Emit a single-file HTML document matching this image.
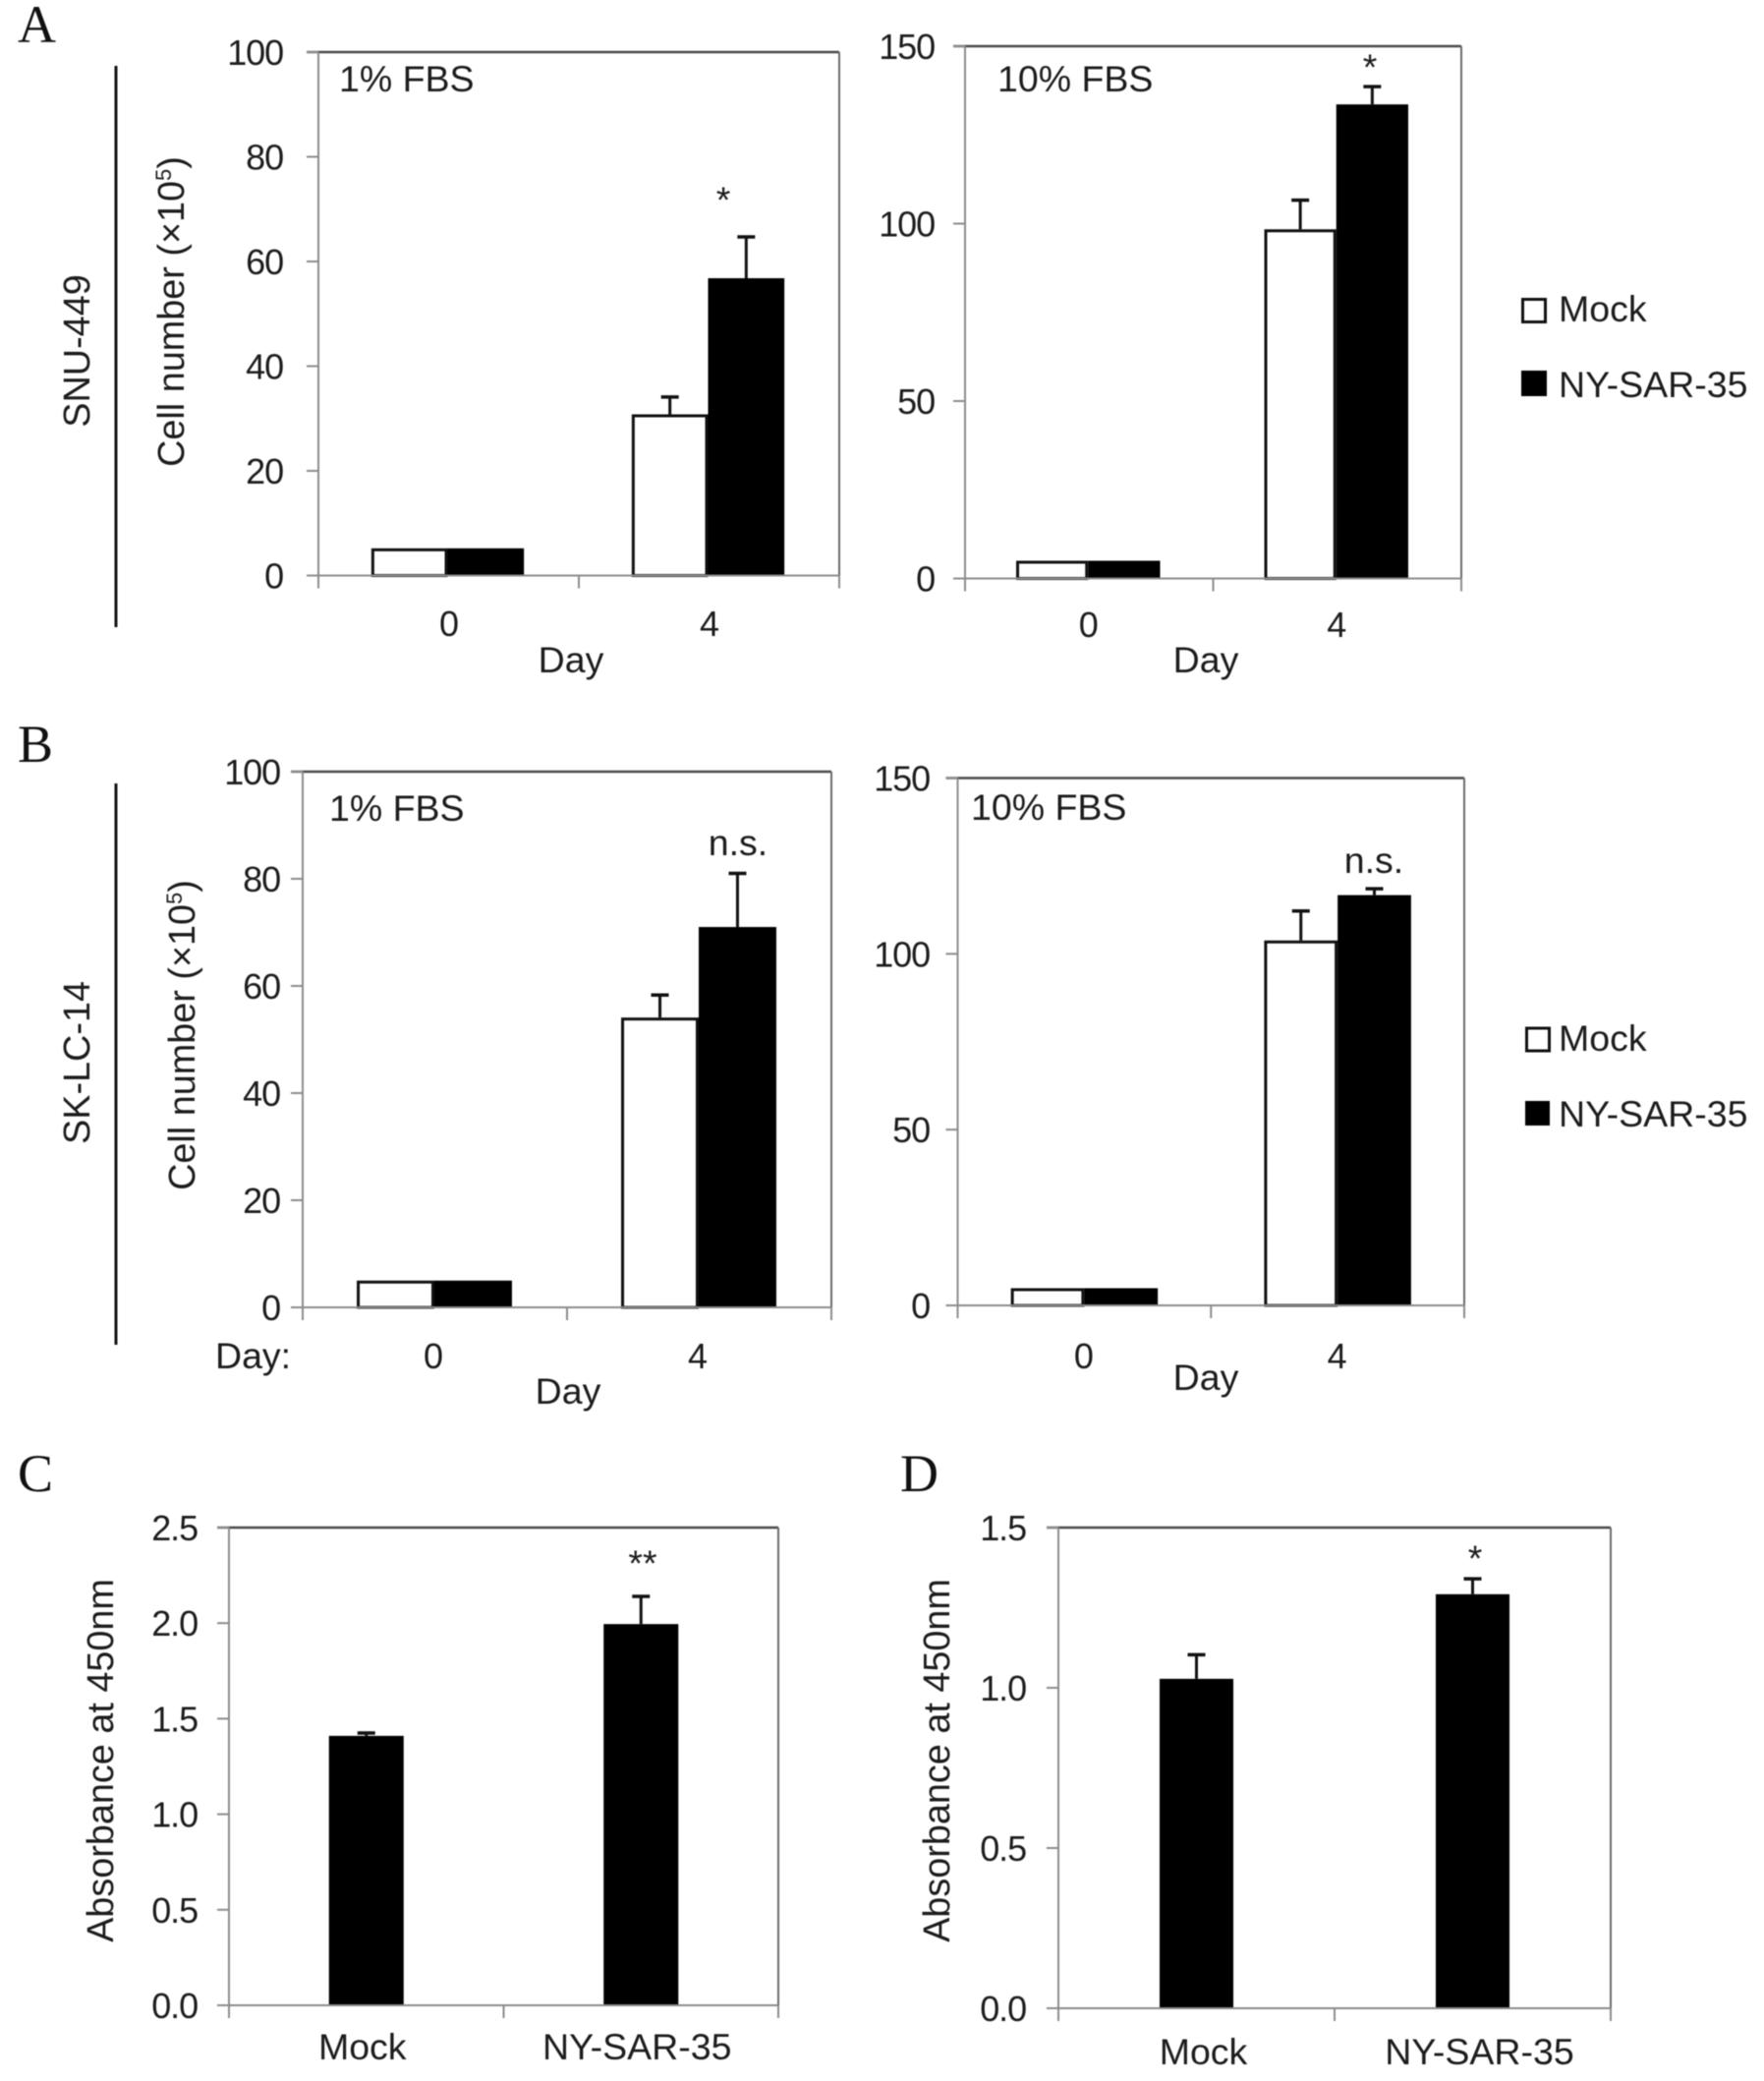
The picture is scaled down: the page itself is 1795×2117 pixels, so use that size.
<!DOCTYPE html>
<html>
<head>
<meta charset="utf-8">
<title>Cell number and absorbance bar charts</title>
<style>
html,body{margin:0;padding:0;background:#fff;}
svg{display:block;filter:blur(0.5px);}
text{font-family:"Liberation Sans",sans-serif;fill:#1c1c1c;}
.letter{font-family:"Liberation Serif",serif;font-size:54px;fill:#111;}
.lab{font-size:37.5px;}
.tick{font-size:36px;letter-spacing:-1.1px;}
.rot{font-size:37.8px;}
.mid{text-anchor:middle;}
.cen{text-anchor:middle;}
</style>
</head>
<body>
<svg id="fig" width="1795" height="2117" viewBox="0 0 1795 2117" xmlns="http://www.w3.org/2000/svg">
  <rect x="0" y="0" width="1795" height="2117" fill="#fff"/>

  <text class="letter" x="18" y="43">A</text>
  <text class="letter" x="18" y="775">B</text>
  <text class="letter" x="18" y="1517">C</text>
  <text class="letter" x="916" y="1517">D</text>

  <line x1="118" y1="67" x2="118" y2="638" stroke="#111" stroke-width="3"/>
  <line x1="118" y1="797" x2="118" y2="1368" stroke="#111" stroke-width="3"/>
  <text class="rot mid" transform="translate(91,357) rotate(-90)">SNU-449</text>
  <text class="rot mid" transform="translate(91,1081) rotate(-90)">SK-LC-14</text>

  <text class="rot mid" transform="translate(187,317) rotate(-90)">Cell number (×10<tspan font-size="22" dy="-13">5</tspan><tspan dy="13">)</tspan></text>
  <text class="rot mid" transform="translate(198,1053) rotate(-90)">Cell number (×10<tspan font-size="22" dy="-13">5</tspan><tspan dy="13">)</tspan></text>
  <text class="rot mid" transform="translate(115,1791) rotate(-90)">Absorbance at 450nm</text>
  <text class="rot mid" transform="translate(966,1791) rotate(-90)">Absorbance at 450nm</text>

  <g id="panel-a1"></g>
  <g id="panel-a2"></g>
  <g id="panel-b1"></g>
  <g id="panel-b2"></g>
  <g id="panel-c"></g>
  <g id="panel-d"></g>

  <text class="lab" x="345" y="93">1% FBS</text>
  <text class="lab" x="1015" y="93">10% FBS</text>
  <text class="lab" x="335" y="835">1% FBS</text>
  <text class="lab" x="988" y="834">10% FBS</text>

  <text class="lab mid" x="581" y="684">Day</text>
  <text class="lab mid" x="1227" y="684">Day</text>
  <text class="lab mid" x="578" y="1428">Day</text>
  <text class="lab mid" x="1227" y="1414">Day</text>
  <text class="lab" x="219" y="1392">Day:</text>

  <text class="lab mid" x="736" y="216">*</text>
  <text class="lab mid" x="1394" y="81">*</text>
  <text class="lab mid" x="751" y="870">n.s.</text>
  <text class="lab mid" x="1398" y="888">n.s.</text>
  <text class="lab mid" x="654" y="1603">**</text>
  <text class="lab mid" x="1501" y="1598">*</text>

  <g>
    <rect x="1549.5" y="304.5" width="23" height="23" fill="#fff" stroke="#111" stroke-width="3"/>
    <text class="lab" x="1586" y="327">Mock</text>
    <rect x="1548" y="377" width="26" height="26" fill="#000"/>
    <text class="lab" x="1586" y="404">NY-SAR-35</text>
  </g>
  <g>
    <rect x="1553.5" y="1046" width="23" height="23" fill="#fff" stroke="#111" stroke-width="3"/>
    <text class="lab" x="1586" y="1069">Mock</text>
    <rect x="1552" y="1120" width="25" height="25" fill="#000"/>
    <text class="lab" x="1586" y="1146">NY-SAR-35</text>
  </g>
</svg>

<script>
// ---- Chart data ----
const dayCategories = ['0', '4'];
const groupCategories = ['Mock', 'NY-SAR-35'];

const cellTicks1pct = ['0', '20', '40', '60', '80', '100'];
const cellTicks10pct = ['0', '50', '100', '150'];
const absTicksC = ['0.0', '0.5', '1.0', '1.5', '2.0', '2.5'];
const absTicksD = ['0.0', '0.5', '1.0', '1.5'];

const a1Mock = [5.2, 30.8];
const a1MockErr = [0, 3.3];
const a1Ny = [5.2, 56.8];
const a1NyErr = [0, 7.9];

const a2Mock = [5, 98.4];
const a2MockErr = [0, 8.2];
const a2Ny = [5, 133.6];
const a2NyErr = [0, 5.0];

const b1Mock = [5, 54.1];
const b1MockErr = [0, 4.2];
const b1Ny = [5, 71];
const b1NyErr = [0, 10];

const b2Mock = [4.9, 103.8];
const b2MockErr = [0, 8.4];
const b2Ny = [4.9, 116.7];
const b2NyErr = [0, 1.8];

const cValues = [1.41, 1.995];
const cErr = [0.015, 0.145];

const dValues = [1.028, 1.292];
const dErr = [0.075, 0.048];

// ---- Drawing ----
const NS = 'http://www.w3.org/2000/svg';
function el(parent, tag, attrs, text) {
  const n = document.createElementNS(NS, tag);
  for (const k in attrs) n.setAttribute(k, attrs[k]);
  if (text !== undefined) n.textContent = text;
  parent.appendChild(n);
  return n;
}

function drawPanel(cfg) {
  const g = document.getElementById(cfg.id);
  const yMax = parseFloat(cfg.ticks[cfg.ticks.length - 1]);
  const yScale = function (v) { return cfg.bottom - (v / yMax) * (cfg.bottom - cfg.top); };
  const band = (cfg.right - cfg.left) / cfg.categories.length;
  const xCenter = function (i) { return cfg.left + band * (i + 0.5); };
  const barW = band * cfg.barFrac;

  // plot frame
  const frameTop = el(g, 'line', { x1: cfg.left - 12, y1: cfg.top, x2: cfg.right, y2: cfg.top, stroke: '#4a4a4a', 'stroke-width': 2.4 });
  
  
  const frameRight = el(g, 'line', { x1: cfg.right, y1: cfg.top, x2: cfg.right, y2: cfg.bottom, stroke: '#6a6a6a', 'stroke-width': 2 });
  
  
  const yAxis = el(g, 'line', { x1: cfg.left, y1: cfg.top, x2: cfg.left, y2: cfg.bottom + 13, stroke: '#8c8c8c', 'stroke-width': 2 });
  
  

  // y ticks
  cfg.ticks.forEach(function (t) {
    const y = yScale(parseFloat(t));
    const mark = el(g, 'line', { x1: cfg.left - 12, y1: y, x2: cfg.left, y2: y, stroke: '#8c8c8c', 'stroke-width': 2 });
    
    
    const lab = el(g, 'text', { x: cfg.labelRight, y: y + 13, 'text-anchor': 'end', class: 'tick' }, t);
    
    
  });

  // bars
  const n = cfg.series.length;
  cfg.series.forEach(function (s, si) {
    s.values.forEach(function (v, i) {
      const x0 = xCenter(i) + (si - n / 2) * barW + cfg.barShift;
      const yTop = yScale(v);
      const isWhite = s.fill === '#fff';
      const bar = el(g, 'rect', {
        x: x0 + (isWhite ? 1.5 : 0),
        y: yTop + (isWhite ? 1.5 : 0),
        width: barW - (isWhite ? 3 : 0),
        height: cfg.bottom - yTop - (isWhite ? 1.5 : 0),
        fill: s.fill,
        stroke: isWhite ? '#111' : 'none',
        'stroke-width': 3
      });
      
      
      const e = s.errors[i];
      if (e > 0) {
        const cx = x0 + barW / 2;
        const eTop = yScale(v + e);
        const stem = el(g, 'line', { x1: cx, y1: yTop, x2: cx, y2: eTop, stroke: '#111', 'stroke-width': 3 });
        
        
        const cap = el(g, 'line', { x1: cx - 9, y1: eTop, x2: cx + 9, y2: eTop, stroke: '#111', 'stroke-width': 3.5 });
        
        
      }
    });
  });

  // x axis
  const xAxis = el(g, 'line', { x1: cfg.left, y1: cfg.bottom, x2: cfg.right, y2: cfg.bottom, stroke: '#8c8c8c', 'stroke-width': 2 });
  
  
  for (let i = 1; i <= cfg.categories.length; i++) {
    const tx = cfg.left + band * i;
    const xt = el(g, 'line', { x1: tx, y1: cfg.bottom, x2: tx, y2: cfg.bottom + 13, stroke: '#8c8c8c', 'stroke-width': 2 });
    
    
  }
  cfg.categories.forEach(function (c, i) {
    const lab = el(g, 'text', { x: xCenter(i) + cfg.catShift, y: cfg.catY, class: cfg.catClass + ' cen' }, c);
    
    
  });
}

drawPanel({ id: 'panel-a1', left: 324, right: 854, top: 53, bottom: 585.5, barFrac: 0.293, barShift: -1, labelRight: 288,
  ticks: cellTicks1pct, categories: dayCategories, catY: 647, catClass: 'tick', catShift: 0,
  series: [{ name: 'mock', fill: '#fff', values: a1Mock, errors: a1MockErr }, { name: 'ny-sar-35', fill: '#000', values: a1Ny, errors: a1NyErr }] });

drawPanel({ id: 'panel-a2', left: 982, right: 1487, top: 47, bottom: 588.5, barFrac: 0.29, barShift: -1, labelRight: 951,
  ticks: cellTicks10pct, categories: dayCategories, catY: 648, catClass: 'tick', catShift: -1,
  series: [{ name: 'mock', fill: '#fff', values: a2Mock, errors: a2MockErr }, { name: 'ny-sar-35', fill: '#000', values: a2Ny, errors: a2NyErr }] });

drawPanel({ id: 'panel-b1', left: 308, right: 846, top: 785, bottom: 1330, barFrac: 0.2935, barShift: -0.5, labelRight: 285,
  ticks: cellTicks1pct, categories: dayCategories, catY: 1392, catClass: 'tick', catShift: -2,
  series: [{ name: 'mock', fill: '#fff', values: b1Mock, errors: b1MockErr }, { name: 'ny-sar-35', fill: '#000', values: b1Ny, errors: b1NyErr }] });

drawPanel({ id: 'panel-b2', left: 974.5, right: 1490, top: 791.5, bottom: 1328, barFrac: 0.29, barShift: 0, labelRight: 946,
  ticks: cellTicks10pct, categories: dayCategories, catY: 1392, catClass: 'tick', catShift: -1,
  series: [{ name: 'mock', fill: '#fff', values: b2Mock, errors: b2MockErr }, { name: 'ny-sar-35', fill: '#000', values: b2Ny, errors: b2NyErr }] });

drawPanel({ id: 'panel-c', left: 233, right: 792, top: 1554, bottom: 2040, barFrac: 0.272, barShift: 0, labelRight: 201,
  ticks: absTicksC, categories: groupCategories, catY: 2095, catClass: 'lab', catShift: -4,
  series: [{ name: 'absorbance', fill: '#000', values: cValues, errors: cErr }] });

drawPanel({ id: 'panel-d', left: 1077, right: 1639, top: 1554, bottom: 2043, barFrac: 0.267, barShift: 0, labelRight: 1044,
  ticks: absTicksD, categories: groupCategories, catY: 2100, catClass: 'lab', catShift: 7,
  series: [{ name: 'absorbance', fill: '#000', values: dValues, errors: dErr }] });
</script>
</body>
</html>
